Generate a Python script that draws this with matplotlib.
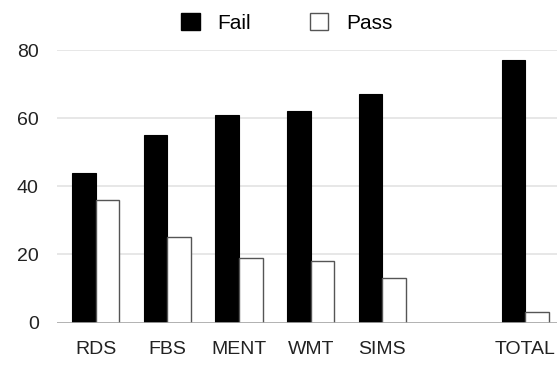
import matplotlib.pyplot as plt
import numpy as np
from matplotlib.patches import Patch

plt.rcParams['font.family'] = ['Liberation Sans', 'DejaVu Sans']

# Data
categories = ["RDS", "FBS", "MENT", "WMT", "SIMS", "", "TOTAL"]
fail = [44, 55, 61, 62, 67, None, 77]
passed = [36, 25, 19, 18, 13, None, 3]

x = np.arange(len(categories))
w = 0.33

fig = plt.figure(figsize=(5.57, 3.65), dpi=100)
ax = fig.add_axes([0.102, 0.116, 0.898, 0.747])

keep = [i for i, v in enumerate(fail) if v is not None]
ax.bar(x[keep] - w / 2, [fail[i] for i in keep], w, color='black', edgecolor='black', linewidth=0.8, zorder=3)
ax.bar(x[keep] + w / 2, [passed[i] for i in keep], w, color='white', edgecolor='#555555', linewidth=1.0, zorder=3)

ax.set_ylim(0, 80)
ax.set_xlim(-0.545, 6.44)
ax.set_yticks([0, 20, 40, 60, 80])
ax.set_xticks(x)
ax.set_xticklabels(categories)
ax.yaxis.grid(True, color='#e3e3e3', linewidth=1.2, zorder=0)
ax.set_axisbelow(True)
for s in ax.spines.values():
    s.set_visible(False)
ax.axhline(0, color='#aaaaaa', linewidth=1.2, zorder=4)
ax.tick_params(axis='both', length=0, labelsize=14, colors='#222222')
ax.tick_params(axis='x', pad=13)
ax.tick_params(axis='y', pad=13)

handles = [Patch(facecolor='black', edgecolor='black', label='Fail'),
           Patch(facecolor='white', edgecolor='#555555', label='Pass')]
fig.legend(handles=handles, loc='center', bbox_to_anchor=(0.515, 0.937), ncol=2,
           frameon=False, fontsize=15, handlelength=0.87, handleheight=0.87,
           columnspacing=2.8, handletextpad=0.87, borderaxespad=0, borderpad=0)

plt.savefig("out.png", dpi=100)
